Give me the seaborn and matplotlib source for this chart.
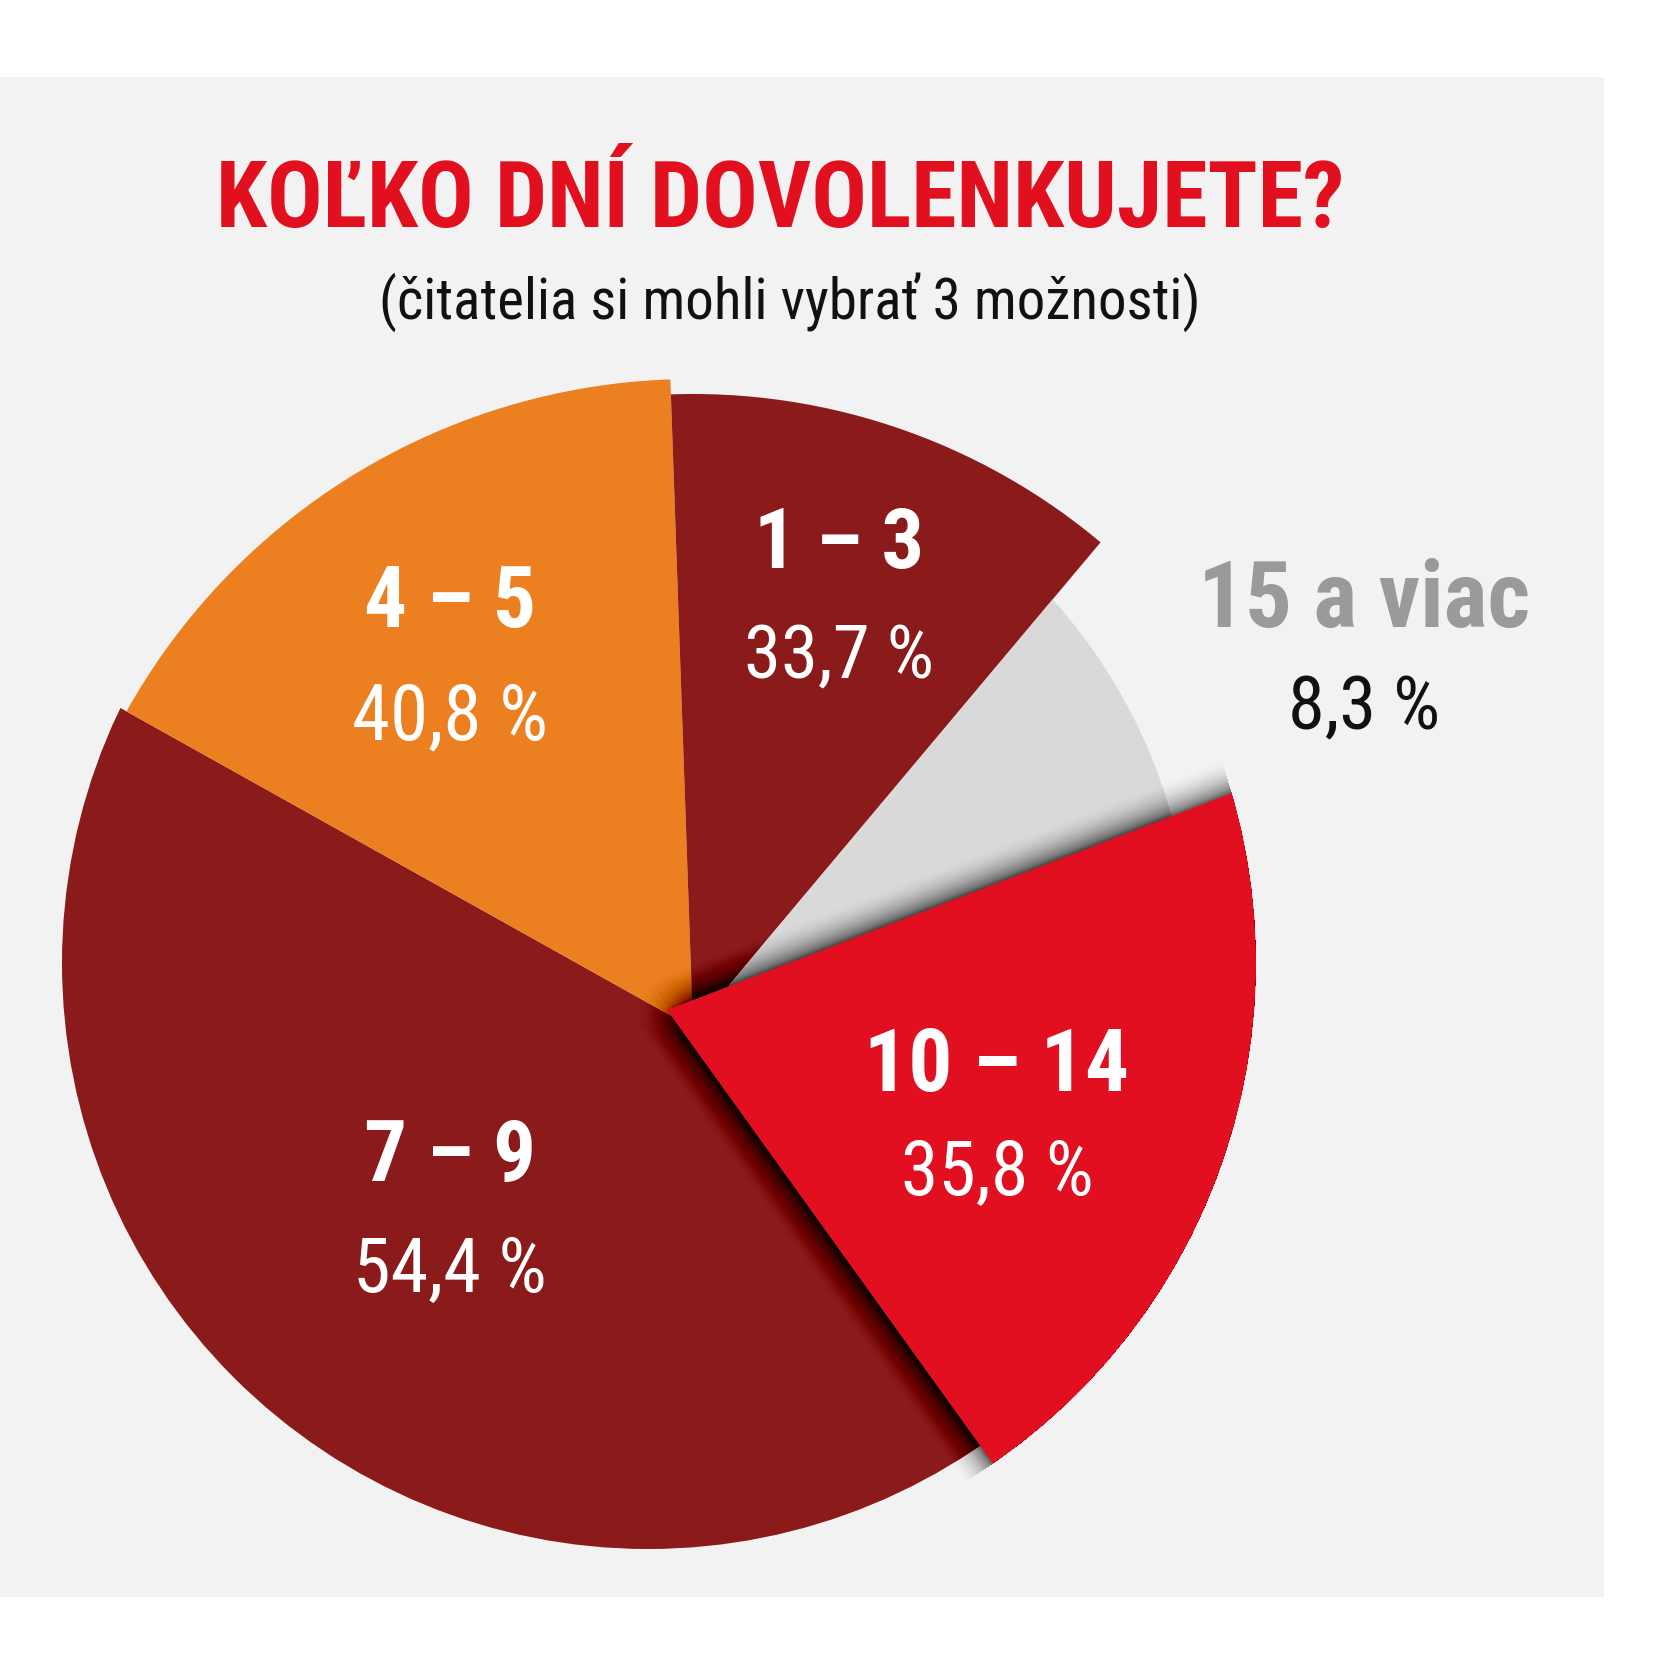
import numpy as np
import matplotlib
matplotlib.use('Agg')
import matplotlib.pyplot as plt
import matplotlib.patheffects as pe
from matplotlib import font_manager
from matplotlib.patches import Circle
import seaborn as sns

# survey answers, clockwise from the top of the pie
labels = ['1 – 3', '15 a viac', '10 – 14', '7 – 9', '4 – 5']
values = [33.7, 8.3, 35.8, 54.4, 40.8]
# slice angles as drawn in the graphic (degrees) - not proportional to values
spans = [42.0, 29.0, 75.3, 154.9, 58.8]
colors = ['#8b1a1a', '#d9d9d9', '#e10f1f', '#8b1a1a', '#ec8020']

title = 'KOĽKO DNÍ DOVOLENKUJETE?'
subtitle = '(čitatelia si mohli vybrať 3 možnosti)'

sns.set_theme(style='white')
# the original uses a very narrow face: take the narrowest one installed
installed = {f.name for f in font_manager.fontManager.ttflist}
family = 'DejaVu Sans'
for name in ['Roboto Condensed', 'Liberation Sans Narrow', 'Open Sans Condensed', 'Roboto']:
    if name in installed:
        family = name
        break
plt.rcParams['font.family'] = [family, 'DejaVu Sans']

fig = plt.figure(figsize=(16.8, 16.8), dpi=100, facecolor='white')
# axes = the light grey panel, 1 data unit = 1 pixel
ax = fig.add_axes([0, 83 / 1680, 1604 / 1680, 1520 / 1680])
ax.set_facecolor('#f2f2f2')

apex = (693, 652)
wedges, _ = ax.pie(spans, colors=colors, startangle=92, counterclock=False,
                   radius=900, center=apex, frame=True,
                   wedgeprops=dict(linewidth=0))

# the slices are not concentric in the original: each outer arc has its own
# circle (centre, radius), the red slice also has its apex moved a bit
arc_centers = [apex, (648, 717), (648, 717), (648, 717), apex]
arc_radii = [634, 544, 608, 586, 649]
zorders = [3, 4, 6, 1, 2]
wedges[2].set_center((667, 670))
for w, c, r, z in zip(wedges, arc_centers, arc_radii, zorders):
    w.set_zorder(z)
    w.set_clip_path(Circle(c, r, transform=ax.transData))
    w.set_clip_on(True)  # pie turns clipping off

# soft shadow cast by the red slice
shadow = []
for rad in np.arange(2, 46, 2):
    for a in np.radians(np.arange(0, 360, 15)):
        shadow.append(pe.SimplePatchShadow(offset=(rad * np.cos(a), rad * np.sin(a)),
                                           shadow_rgbFace='black',
                                           alpha=0.004 * (1 - rad / 48)))
shadow.append(pe.Normal())
wedges[2].set_path_effects(shadow)

ax.set_xlim(0, 1604)
ax.set_ylim(83, 1603)
ax.set_xticks([])
ax.set_yticks([])
for s in ax.spines.values():
    s.set_visible(False)

renderer = fig.canvas.get_renderer()


def fit(t, width):
    # scale the font so the text is about as wide as in the original
    w = t.get_window_extent(renderer).width
    t.set_fontsize(t.get_fontsize() * width / w)


def pct(v):
    return '{:.1f} %'.format(v).replace('.', ',')


t = ax.text(780, 1453, title, ha='center', va='baseline', fontsize=60,
            fontweight='bold', fontstretch='condensed', color='#e2101f', zorder=10)
fit(t, 1130)
t = ax.text(790, 1361, subtitle, ha='center', va='baseline', fontsize=40,
            fontstretch='condensed', color='#111111', zorder=10)
fit(t, 822)

# label positions: (x, baseline of name, baseline of percentage)
label_pos = [(839, 1112, 1002), (1364, 1053, 951), (997, 589, 485),
             (450, 499, 388), (450, 1053, 940)]
name_w = [170, 332, 265, 172, 172]
pct_w = [190, 152, 192, 194, 196]
name_col = ['white', '#9a9a9a', 'white', 'white', 'white']
pct_col = ['white', '#111111', 'white', 'white', 'white']

for lab, v, (x, y1, y2), w1, w2, c1, c2 in zip(labels, values, label_pos, name_w,
                                               pct_w, name_col, pct_col):
    t = ax.text(x, y1, lab, ha='center', va='baseline', fontsize=40,
                fontweight='bold', fontstretch='condensed', color=c1, zorder=10)
    fit(t, w1)
    t = ax.text(x, y2, pct(v), ha='center', va='baseline', fontsize=40,
                fontstretch='condensed', color=c2, zorder=10)
    fit(t, w2)

fig.savefig('out.png', dpi=100, facecolor='white')
plt.close()
